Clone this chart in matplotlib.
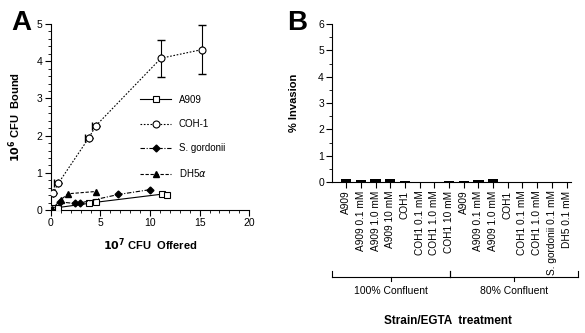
import matplotlib
matplotlib.use("Agg")
from matplotlib import pyplot as plt
from matplotlib.ticker import MultipleLocator
import matplotlib.transforms as mtransforms
import numpy as np

plt.rcParams['font.family'] = ['Liberation Sans', 'DejaVu Sans']

# Panel A data: 10^7 CFU offered vs 10^6 CFU bound
a909_x = [0.15, 0.75, 3.8, 4.5, 11.25, 11.7]
a909_y = [0.06, 0.07, 0.18, 0.21, 0.43, 0.41]
coh_x = [0.2, 0.75, 3.8, 4.55, 11.1, 15.2]
coh_y = [0.45, 0.72, 1.93, 2.27, 4.08, 4.31]
coh_err = [0.0, 0.0, 0.0, 0.0, 0.5, 0.65]
coh_xerr = [0.0, 0.4, 0.4, 0.4, 0.0, 0.0]
sg_x = [0.05, 0.9, 2.4, 2.9, 6.8, 10.0]
sg_y = [0.0, 0.22, 0.18, 0.19, 0.42, 0.55]
dh_x = [0.1, 1.0, 1.75, 4.5]
dh_y = [0.02, 0.28, 0.44, 0.5]

# Panel B data: % invasion
strains = ["A909", "A909 0.1 mM", "A909 1.0 mM", "A909 10 mM", "COH1",
           "COH1 0.1 mM", "COH1 1.0 mM", "COH1 10 mM", "A909", "A909 0.1 mM",
           "A909 1.0 mM", "COH1", "COH1 0.1 mM", "COH1 1.0 mM",
           "S. gordonii 0.1 mM", "DH5 0.1 mM"]
invasion = [0.13, 0.08, 0.12, 0.13, 0.03, 0.02, 0.01, 0.05,
            0.06, 0.08, 0.11, 0.02, 0.02, 0.02, 0.01, 0.01]
groups = ["100% Confluent", "80% Confluent"]
group_sizes = [8, 8]

fig = plt.figure(figsize=(5.85, 3.33), dpi=100)

# ---- panel A
ax = fig.add_axes([0.087, 0.369, 0.339, 0.559])
h1, = ax.plot(a909_x, a909_y, '-', color='black', lw=0.8, marker='s', ms=4.5,
              mfc='white', mec='black', mew=0.8, label='A909', zorder=3)
ax.errorbar(coh_x, coh_y, yerr=coh_err, xerr=[coh_xerr, [0]*6], fmt='none',
            ecolor='black', capsize=3, elinewidth=0.8, zorder=2)
h2, = ax.plot(coh_x, coh_y, ls=(0, (1.5, 1.5)), color='black', lw=0.8,
              marker='o', ms=5, mfc='white', mec='black', mew=0.8,
              label='COH-1', zorder=3)
h3, = ax.plot(sg_x, sg_y, color='black', lw=0.8, ls=(0, (4, 1.5, 1, 1.5)),
              marker='D', ms=3.5, label='S. gordonii', zorder=3)
h4, = ax.plot(dh_x, dh_y, color='black', lw=0.8, ls=(0, (3, 1.5)),
              marker='^', ms=4.5, label=r'DH5$\alpha$', zorder=3)

ax.set_xlim(0, 20)
ax.set_ylim(0, 5)
ax.xaxis.set_major_locator(MultipleLocator(5))
ax.xaxis.set_minor_locator(MultipleLocator(1))
ax.yaxis.set_major_locator(MultipleLocator(1))
ax.yaxis.set_minor_locator(MultipleLocator(0.2))
for s in ['top', 'right']:
    ax.spines[s].set_visible(False)
for s in ['left', 'bottom']:
    ax.spines[s].set_linewidth(0.8)
ax.tick_params(labelsize=7.5, width=0.8, length=4, pad=2)
ax.tick_params(which='minor', width=0.6, length=2)
ax.set_xlabel(r'$\mathbf{10^7}$ CFU  Offered', fontsize=8, fontweight='bold',
              labelpad=6)
ax.set_ylabel(r'$\mathbf{10^6}$ CFU  Bound', fontsize=8, fontweight='bold',
              labelpad=10)
ax.legend(handles=[h1, h2, h3, h4], loc='upper left',
          bbox_to_anchor=(0.43, 0.64), frameon=False,
          fontsize=7, labelspacing=1.45, handlelength=3.2, handletextpad=0.8,
          borderaxespad=0)
fig.text(0.02, 0.91, 'A', fontsize=20, fontweight='bold')

# ---- panel B
bx = fig.add_axes([0.568, 0.453, 0.408, 0.475])
pos = np.arange(len(strains))
bx.bar(pos, invasion, width=0.7, color='black')
bx.set_xlim(-0.95, 15.3)
bx.set_ylim(0, 6)
bx.yaxis.set_major_locator(MultipleLocator(1))
bx.yaxis.set_minor_locator(MultipleLocator(0.5))
bx.set_xticks(pos)
bx.set_xticklabels(strains, rotation=90, fontsize=7.3)
for s in ['top', 'right']:
    bx.spines[s].set_visible(False)
for s in ['left', 'bottom']:
    bx.spines[s].set_linewidth(0.8)
bx.tick_params(width=0.8, length=4, pad=2)
bx.tick_params(axis='y', labelsize=7.5)
bx.tick_params(which='minor', width=0.6, length=2)
bx.set_ylabel('% Invasion', fontsize=8, fontweight='bold', labelpad=14)
fig.text(0.49, 0.91, 'B', fontsize=20, fontweight='bold')

# group brackets below tick labels
trans = mtransforms.blended_transform_factory(bx.transData, fig.transFigure)
y_line = 1 - 277 / 333
start = -0.95
edges = [start]
for n in group_sizes:
    edges.append(edges[-1] + n)
edges[-1] = 15.75
for i, g in enumerate(groups):
    x0, x1 = edges[i], edges[i + 1]
    mid = (x0 + x1) / 2
    bx.plot([x0, x1], [y_line, y_line], color='black', lw=0.8,
            transform=trans, clip_on=False)
    bx.plot([x0, x0], [y_line, y_line + 0.018], color='black', lw=0.8,
            transform=trans, clip_on=False)
    bx.plot([x1, x1], [y_line, y_line + 0.018], color='black', lw=0.8,
            transform=trans, clip_on=False)
    bx.plot([mid, mid], [y_line, y_line - 0.012], color='black', lw=0.8,
            transform=trans, clip_on=False)
    bx.text(mid, 1 - 291 / 333, g, transform=trans, fontsize=7.5,
            ha='center', va='center')
fig.text(0.765, 1 - 321 / 333, 'Strain/EGTA  treatment', fontsize=8.5,
         fontweight='bold', ha='center', va='center')

fig.savefig('out.png', dpi=100)
